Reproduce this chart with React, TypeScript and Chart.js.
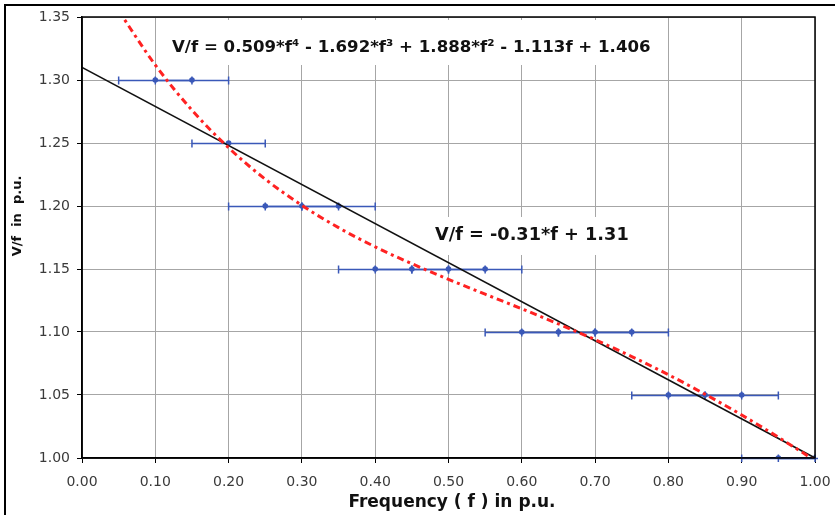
import React, { useEffect, useRef } from "react";
import { Chart, registerables } from "chart.js";

Chart.register(...registerables);

// ---- data ----
const measuredF = [0.10, 0.15, 0.20, 0.25, 0.30, 0.35, 0.40, 0.45, 0.50, 0.55, 0.60, 0.65, 0.70, 0.75, 0.80, 0.85, 0.90, 0.95, 1.00];
const measuredVf = [1.30, 1.30, 1.25, 1.20, 1.20, 1.20, 1.15, 1.15, 1.15, 1.15, 1.10, 1.10, 1.10, 1.10, 1.05, 1.05, 1.05, 1.00, 1.00];
const freqError = [0.05, 0.05, 0.05, 0.05, 0.05, 0.05, 0.05, 0.05, 0.05, 0.05, 0.05, 0.05, 0.05, 0.05, 0.05, 0.05, 0.05, 0.05, 0.05];

const polyF = [0.05, 0.10, 0.15, 0.20, 0.25, 0.30, 0.35, 0.40, 0.45, 0.50, 0.55, 0.60, 0.65, 0.70, 0.75, 0.80, 0.85, 0.90, 0.95, 1.00];
const polyVf = [1.3549, 1.3119, 1.2761, 1.2462, 1.2213, 1.2005, 1.1828, 1.1676, 1.1542, 1.1418, 1.1300, 1.1184, 1.1064, 1.0939, 1.0805, 1.0661, 1.0506, 1.0341, 1.0165, 0.9980];

const linearF = [0.0, 1.0];
const linearVf = [1.31, 1.00];

const polyLabel = "V/f = 0.509*f\u2074 - 1.692*f\u00b3 + 1.888*f\u00b2 - 1.113f + 1.406";
const linearLabel = "V/f = -0.31*f + 1.31";
const polyLabelAt = [0.1228, 1.3254];
const linearLabelAt = [0.4816, 1.177];

const xTitle = "Frequency ( f ) in p.u.";
const yTitle = "V/f  in  p.u.";

const FONT = "'DejaVu Sans', Verdana, sans-serif";

const annotationPlugin = {
  id: "annotations",
  beforeDatasetsDraw(chart: any) {
    const { ctx, chartArea: a, scales } = chart;
    const x = scales.x;
    const y = scales.y;
    ctx.save();
    const drawLabel = (text: string, at: number[], size: number, padTop: number, padBottom: number) => {
      ctx.font = `bold ${size}px ${FONT}`;
      const w = ctx.measureText(text).width;
      const px = x.getPixelForValue(at[0]);
      const py = y.getPixelForValue(at[1]);
      ctx.fillStyle = "#ffffff";
      ctx.fillRect(px - 9, py - padTop, w + 18, padTop + padBottom);
      ctx.fillStyle = "#111111";
      ctx.textAlign = "left";
      ctx.textBaseline = "middle";
      ctx.fillText(text, px, py);
    };
    drawLabel(polyLabel, polyLabelAt, 16.6, 28, 17);
    drawLabel(linearLabel, linearLabelAt, 17.7, 18, 20);

    // horizontal error bars
    ctx.beginPath();
    ctx.rect(a.left, a.top - 4, a.right - a.left + 3, a.bottom - a.top + 8);
    ctx.clip();
    ctx.strokeStyle = "#3a58b8";
    ctx.lineWidth = 1.5;
    for (let i = 0; i < measuredF.length; i++) {
      const py = Math.round(y.getPixelForValue(measuredVf[i])) + 0.5;
      const l = x.getPixelForValue(measuredF[i] - freqError[i]);
      const r = x.getPixelForValue(measuredF[i] + freqError[i]);
      ctx.beginPath();
      ctx.moveTo(l, py);
      ctx.lineTo(r, py);
      ctx.moveTo(l, py - 4);
      ctx.lineTo(l, py + 4);
      ctx.moveTo(r, py - 4);
      ctx.lineTo(r, py + 4);
      ctx.stroke();
    }
    ctx.restore();
  },
  afterDraw(chart: any) {
    const { ctx, chartArea: a } = chart;
    ctx.save();
    ctx.strokeStyle = "#000";
    ctx.lineWidth = 1.5;
    ctx.strokeRect(a.left, a.top, a.right - a.left, a.bottom - a.top);
    ctx.fillStyle = "#111";
    ctx.font = `bold 17px ${FONT}`;
    ctx.textAlign = "center";
    ctx.textBaseline = "middle";
    ctx.fillText(xTitle, 452, 503);
    ctx.translate(18, 216);
    ctx.rotate(-Math.PI / 2);
    ctx.font = `bold 13px ${FONT}`;
    ctx.fillText(yTitle, 0, 0);
    ctx.restore();
  },
};

export default function App() {
  const ref = useRef<HTMLCanvasElement | null>(null);
  useEffect(() => {
    if (!ref.current) return;
    const chart = new Chart(ref.current, {
      type: "scatter",
      data: {
        datasets: [
          {
            label: "Polynomial fit",
            data: polyF.map((f, i) => ({ x: f, y: polyVf[i] })),
            showLine: true,
            borderColor: "#ff2222",
            borderWidth: 3,
            borderDash: [7, 4, 3, 4],
            pointRadius: 0,
            cubicInterpolationMode: "monotone",
          } as any,
          {
            label: "Linear fit",
            data: linearF.map((f, i) => ({ x: f, y: linearVf[i] })),
            showLine: true,
            borderColor: "#111111",
            borderWidth: 1.6,
            pointRadius: 0,
          },
          {
            label: "Measured",
            data: measuredF.map((f, i) => ({ x: f, y: measuredVf[i] })),
            showLine: false,
            pointRadius: 2.8,
            pointBackgroundColor: "#3a58b8",
            pointBorderColor: "#3a58b8",
            pointBorderWidth: 0,
          },
        ],
      },
      options: {
        animation: false,
        responsive: false,
        devicePixelRatio: 1,
        layout: { padding: { top: 17, right: 20, left: 0, bottom: 0 } },
        plugins: { legend: { display: false }, tooltip: { enabled: false } },
        scales: {
          x: {
            type: "linear",
            min: 0,
            max: 1,
            afterFit: (s: any) => { s.height = 57; s.paddingLeft = 0; s.paddingRight = 0; },
            ticks: {
              stepSize: 0.1,
              callback: (v: any) => Number(v).toFixed(2),
              font: { family: FONT, size: 14 },
              color: "#3a3a3a",
              padding: 11,
              maxRotation: 0,
              autoSkip: false,
            },
            grid: { color: "#a6a6a6", lineWidth: 1, tickLength: 5, tickColor: "#000" },
            border: { color: "#000", width: 1.5 },
          },
          y: {
            type: "linear",
            min: 1.0,
            max: 1.35,
            afterFit: (s: any) => { s.width = 82; s.paddingTop = 0; s.paddingBottom = 0; },
            ticks: {
              stepSize: 0.05,
              callback: (v: any) => Number(v).toFixed(2),
              font: { family: FONT, size: 14 },
              color: "#3a3a3a",
              padding: 7,
              autoSkip: false,
            },
            grid: { color: "#a6a6a6", lineWidth: 1, tickLength: 5, tickColor: "#000" },
            border: { color: "#000", width: 1.5 },
          },
        },
      },
      plugins: [annotationPlugin],
    });
    return () => chart.destroy();
  }, []);

  return (
    <div style={{ position: "fixed", left: 0, top: 0, width: 835, height: 515, overflow: "hidden", background: "#fff" }}>
      <canvas ref={ref} width={835} height={515} style={{ position: "absolute", left: 0, top: 0, width: 835, height: 515 }} />
      <div style={{ position: "absolute", left: 4, top: 4, width: 900, height: 600, border: "2px solid #000", pointerEvents: "none" }} />
    </div>
  );
}
